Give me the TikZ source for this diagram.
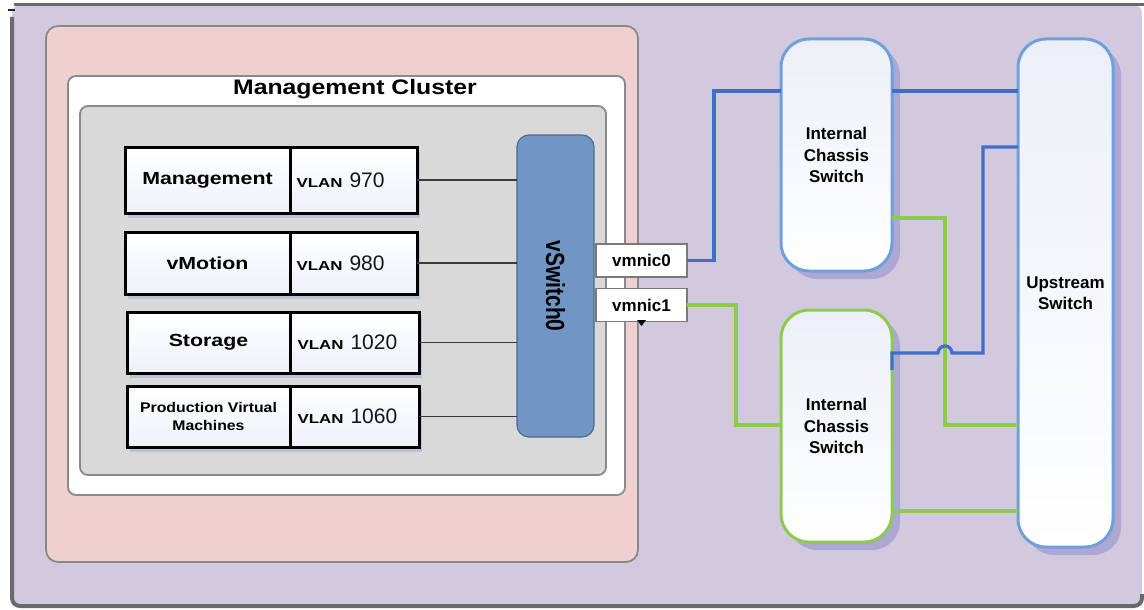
\documentclass[tikz,border=0pt]{standalone}
\usepackage{fontspec}
\setmainfont{Liberation Sans}
\usepackage{graphicx}
\usetikzlibrary{shadows}
\definecolor{bgpurple}{HTML}{D3C9DF}
\definecolor{framegray}{HTML}{6A6A6A}
\definecolor{pinkfill}{HTML}{EFCFCF}
\definecolor{grayfill}{HTML}{D9D9D9}
\definecolor{boxedge}{HTML}{8A8A8A}
\definecolor{vswfill}{HTML}{7096C6}
\definecolor{vswedge}{HTML}{4E6A8E}
\definecolor{linkblue}{HTML}{3F6FC8}
\definecolor{linkgreen}{HTML}{8DCB4E}
\definecolor{swblue}{HTML}{6F9FDC}
\definecolor{swtop}{HTML}{ECEFF7}
\definecolor{shadowc}{HTML}{ADA8D3}
\definecolor{rowshadow}{HTML}{BCC2D2}
\definecolor{cellblue}{HTML}{EEF1F8}
\definecolor{numc}{HTML}{14141F}
\definecolor{tiegray}{HTML}{3A3A3A}
\definecolor{nicedge}{HTML}{7A7A7A}
\newcommand{\xstr}[2]{\scalebox{#1}[1]{#2}}
\newcommand{\vlanlbl}[1]{\makebox[120pt][l]{\hspace{3pt}\xstr{1.3}{\fontsize{13}{15}\selectfont\bfseries VLAN}\hspace{7pt}{\fontsize{21}{24}\selectfont\color{numc}#1}}}
\begin{document}
\begin{tikzpicture}[x=1pt,y=-1pt,
  every node/.style={inner sep=0pt, outer sep=0pt},
  container/.style={draw=boxedge, line width=1.8pt},
  cell/.style={draw=black, line width=3pt, top color=white, bottom color=cellblue,
    general shadow={fill=rowshadow, shadow xshift=3pt, shadow yshift=-5pt}},
  nic/.style={draw=nicedge, fill=white, line width=1.2pt, font=\fontsize{17}{20}\selectfont\bfseries},
  sw/.style={line width=3pt, rounded corners=28pt, top color=swtop, bottom color=white,
    align=center, font=\fontsize{17}{21.5}\selectfont\bfseries,
    general shadow={fill=shadowc, shadow xshift=8pt, shadow yshift=-8pt}},
  bl/.style={draw=linkblue, line width=3.2pt},
  gr/.style={draw=linkgreen, line width=3.2pt},
  tie/.style={draw=tiegray, line width=1.3pt}]
\useasboundingbox (0,0) rectangle (1144,610);
% outer frame
\fill[bgpurple, rounded corners=8] (12,5) rectangle (1142,606);
\draw[framegray, line width=3] (14,5) -- (1144,5);
\draw[framegray, line width=4, rounded corners=8] (12,17) -- (12,606) -- (1142,606) -- (1142,594);
\draw[black!85, line width=2] (8,10) -- (15,10);
% containers
\node[container, fill=pinkfill, rounded corners=12pt, minimum width=592, minimum height=536] (host) at (342,294) {};
\node[container, fill=white, rounded corners=8pt, minimum width=557, minimum height=419] (cluster) at (346.5,285.5) {};
\node[font=\fontsize{21}{24}\selectfont\bfseries] (title) at (355,89) {\xstr{1.18}{Management Cluster}};
\node[container, fill=grayfill, rounded corners=8pt, minimum width=526, minimum height=369] (inner) at (343,290.5) {};
% port groups
\node[cell, minimum width=165, minimum height=66, font=\fontsize{17.5}{20}\selectfont\bfseries] (l1) at (207.5,180) {\xstr{1.22}{Management}};
\node[cell, minimum width=127, minimum height=66] (v1) at (353.5,180) {\vlanlbl{970}};
\node[cell, minimum width=165, minimum height=62, font=\fontsize{17.5}{20}\selectfont\bfseries] (l2) at (207.5,263) {\xstr{1.22}{vMotion}};
\node[cell, minimum width=127, minimum height=62] (v2) at (353.5,263) {\vlanlbl{980}};
\node[cell, minimum width=163, minimum height=61, font=\fontsize{17.5}{20}\selectfont\bfseries] (l3) at (208.5,342.5) {\xstr{1.22}{Storage}};
\node[cell, minimum width=129, minimum height=61] (v3) at (354.5,342.5) {\vlanlbl{1020}};
\node[cell, minimum width=163, minimum height=61, align=center, font=\fontsize{14}{18.3}\selectfont\bfseries] (l4) at (208.5,416.5) {\xstr{1.13}{Production Virtual}\\\xstr{1.13}{Machines}};
\node[cell, minimum width=129, minimum height=61] (v4) at (354.5,416.5) {\vlanlbl{1060}};
% vSwitch
\node[draw=vswedge, fill=vswfill, line width=1.2pt, rounded corners=12pt, rotate=-90,
  minimum width=302, minimum height=77, font=\fontsize{21}{24}\selectfont\bfseries] (vsw) at (555.5,286) {\scalebox{1}[1.25]{vSwitch0}};
\draw[tie] (v1.east) -- (vsw.south |- v1.east);
\draw[tie] (v2.east) -- (vsw.south |- v2.east);
\draw[tie] (v3.east) -- (vsw.south |- v3.east);
\draw[tie] (v4.east) -- (vsw.south |- v4.east);
% vmnics
\node[nic, minimum width=91, minimum height=33] (nic0) at (641.5,260.5) {vmnic0};
\node[nic, minimum width=91, minimum height=33] (nic1) at (641.5,305) {vmnic1};
\fill[black] (637,320) -- (646,320) -- (641.5,326) -- cycle;
% switches
\node[sw, draw=swblue, minimum width=111, minimum height=232] (cs1) at (836.5,155) {Internal\\Chassis\\Switch};
\node[sw, draw=linkgreen, minimum width=111, minimum height=232] (cs2) at (836.5,426) {Internal\\Chassis\\Switch};
\node[sw, draw=swblue, minimum width=95, minimum height=508] (up) at (1065.5,293) {Upstream\\Switch};
% link coordinates
\coordinate (b1) at (714,91);
\coordinate (b2) at (983,147);
\coordinate (b3) at (892,370);
\coordinate (b4) at (892,353);
\coordinate (g1) at (736,425);
\coordinate (g2) at (945,218);
\coordinate (g3) at (945,425);
\coordinate (g4) at (892,511);
% blue links
\draw[bl] (nic0.east) -| (b1) -- (cs1.west |- b1);
\draw[bl] (cs1.east |- b1) -- (up.west |- b1);
% green links
\draw[gr] (nic1.east) -| (g1) -- (cs2.west |- g1);
\draw[gr] (cs1.east |- g2) -- (g2) -- (g3) -- (up.west |- g3);
\draw[gr] (cs2.east |- g4) -- (up.west |- g4);
% blue link with hop over green
\draw[bl] (b3) -- (b4) -- (938,353) arc[start angle=180, end angle=360, radius=7] -- (b2 |- b4) -- (b2) -- (up.west |- b2);
\end{tikzpicture}
\end{document}
